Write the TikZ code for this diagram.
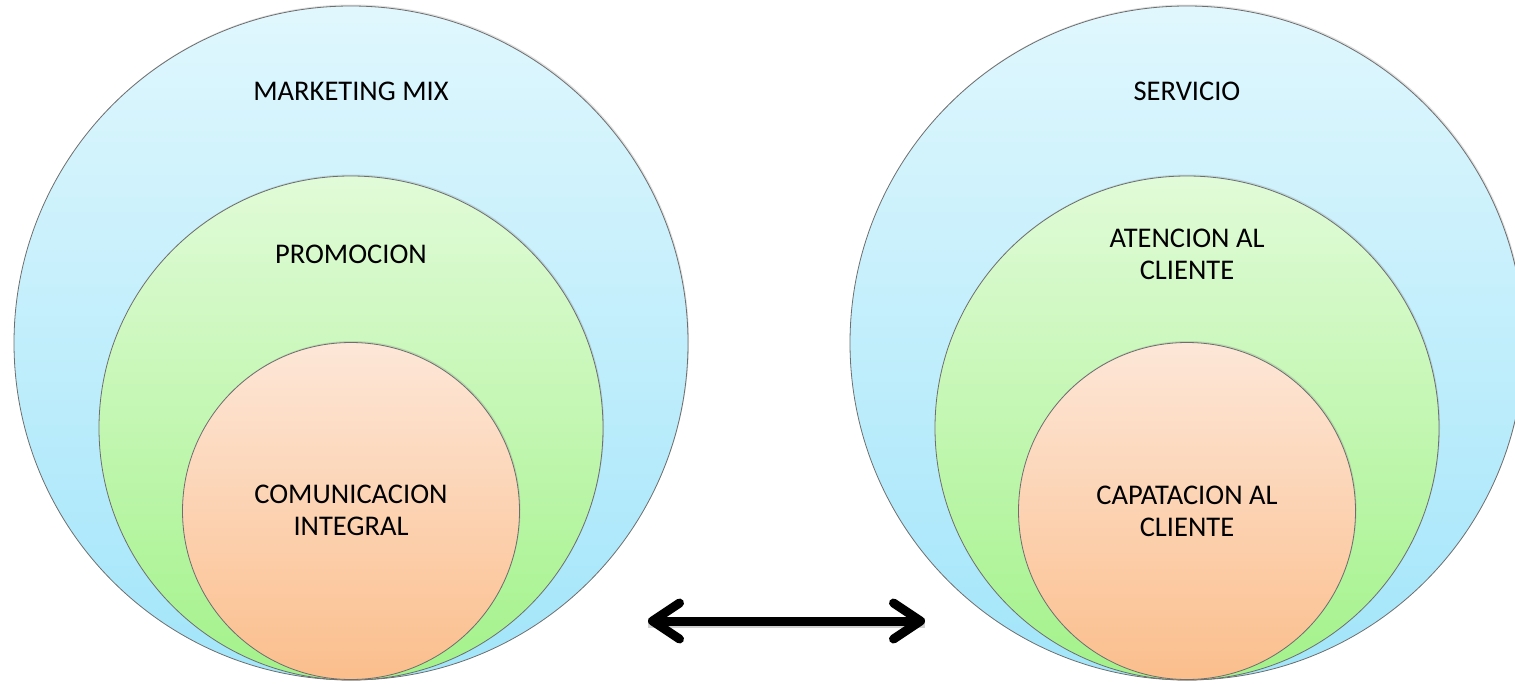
\documentclass[tikz,border=0pt]{standalone}
\usepackage{fontspec}
\setmainfont{Carlito}
\usetikzlibrary{arrows.meta,shadows}

\definecolor{blueTop}{RGB}{224,247,253}
\definecolor{blueBot}{RGB}{162,229,250}
\definecolor{greenTop}{RGB}{225,251,216}
\definecolor{greenBot}{RGB}{163,242,138}
\definecolor{orangeTop}{RGB}{253,231,216}
\definecolor{orangeBot}{RGB}{251,190,140}
\definecolor{rim}{RGB}{110,110,110}

\tikzset{
  ring/.style={circle, inner sep=0pt, draw=rim, line width=0.8pt,
    drop shadow={opacity=0.25, shadow xshift=1pt, shadow yshift=1.5pt}},
  outerring/.style={ring, minimum size=674pt, top color=blueTop, bottom color=blueBot},
  midring/.style={ring, minimum size=504pt, top color=greenTop, bottom color=greenBot},
  innerring/.style={ring, minimum size=337pt, top color=orangeTop, bottom color=orangeBot},
  label/.style={font=\fontsize{28.5}{32}\selectfont, align=center, text=black, inner sep=0pt},
  link/.style={line width=9pt, {Straight Barb[length=27pt, width=36pt, round]}-{Straight Barb[length=27pt, width=36pt, round]},
    preaction={draw=black, opacity=0.18, line width=10pt, transform canvas={yshift=-2pt}, -}}
}

\begin{document}
\begin{tikzpicture}[x=1pt, y=-1pt]
  \useasboundingbox (0,0) rectangle (1515,683);

  % left set of nested circles
  \node[outerring] (outerL) at (351,343) {};
  \node[midring]   (midL)   at (351,428) {};
  \node[innerring] (innerL) at (351,511) {};
  \node[label] (tMarketing) at (351,91)  {MARKETING MIX};
  \node[label] (tPromocion) at (351,254) {PROMOCION};
  \node[label] (tComunic)   at (351,510) {COMUNICACION\\INTEGRAL};

  % right set of nested circles
  \node[outerring] (outerR) at (1187,343) {};
  \node[midring]   (midR)   at (1187,428) {};
  \node[innerring] (innerR) at (1187,511) {};
  \node[label] (tServicio)  at (1187,91)  {SERVICIO};
  \node[label] (tAtencion)  at (1187,254) {ATENCION AL\\CLIENTE};
  \node[label] (tCapta)     at (1187,511) {CAPATACION AL\\CLIENTE};

  % two-way arrow between the sets
  \coordinate (arrL) at (648,621);
  \coordinate (arrR) at (925,621);
  \draw[link] (arrL) -- (arrR);
\end{tikzpicture}
\end{document}
